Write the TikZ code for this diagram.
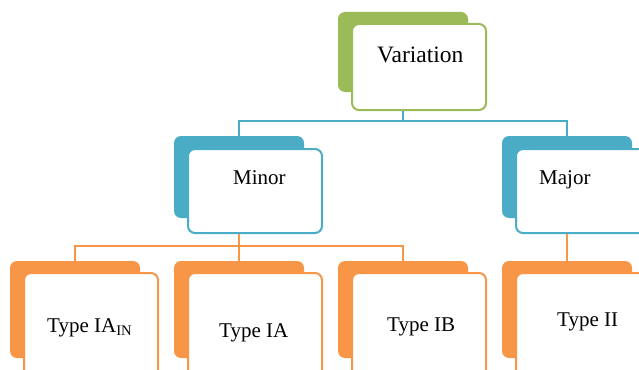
\documentclass[tikz,border=0pt]{standalone}
\usepackage{fontspec}
\setmainfont{Liberation Serif}
\usepackage{tikz}
\definecolor{vargreen}{HTML}{9BBB59}
\definecolor{catblue}{HTML}{4BACC6}
\definecolor{typeorange}{HTML}{F79646}
\tikzstyle{Back}=[rectangle, rounded corners=7pt, inner sep=0pt, minimum width=130, minimum height=82]
\tikzstyle{Front}=[rectangle, rounded corners=7pt, fill=white, line width=2pt, inner sep=0pt, minimum width=134, minimum height=84]
\tikzstyle{Low}=[minimum height=97]
\tikzstyle{LowFront}=[minimum height=110]
\tikzstyle{Label}=[inner sep=0pt, anchor=base west, font=\fontsize{21}{25}\selectfont]
\tikzstyle{Link}=[line width=2pt]

\begin{document}
\begin{tikzpicture}[x=1pt, y=-1pt]
    \useasboundingbox (0,0) rectangle (639,369);
    \path
    (403,52) node[Back, fill=vargreen, minimum height=80] (varb) {}
    (419,67) node[Front, draw=vargreen, minimum height=86] (varf) {}
    (239,177) node[Back, fill=catblue] (minb) {}
    (255,191) node[Front, draw=catblue] (minf) {}
    (567,177) node[Back, fill=catblue] (majb) {}
    (583,191) node[Front, draw=catblue] (majf) {}
    (75,309.5) node[Back, Low, fill=typeorange] (iainb) {}
    (91,328) node[Front, LowFront, draw=typeorange] (iainf) {}
    (239,309.5) node[Back, Low, fill=typeorange] (iab) {}
    (255,328) node[Front, LowFront, draw=typeorange] (iaf) {}
    (403,309.5) node[Back, Low, fill=typeorange] (ibb) {}
    (419,328) node[Front, LowFront, draw=typeorange] (ibf) {}
    (567,309.5) node[Back, Low, fill=typeorange] (iib) {}
    (583,328) node[Front, LowFront, draw=typeorange] (iif) {};

    \path (377,63) node[Label, font=\fontsize{23.5}{28}\selectfont] (vart) {Variation}
    (233,184) node[Label] (mint) {Minor}
    (539,184) node[Label] (majt) {Major}
    (47,332) node[Label] (iaint) {Type IA\textsubscript{IN}}
    (219,337) node[Label] (iat) {Type IA}
    (387,331) node[Label] (ibt) {Type IB}
    (557,326) node[Label] (iit) {Type II};

    \draw[Link, draw=catblue] (varf.south -| varb.north) -- ++(0,10) -| (minb.north);
    \draw[Link, draw=catblue] (varf.south -| varb.north) -- ++(0,10) -| (majb.north);
    \draw[Link, draw=typeorange] (minf.south -| minb.north) -- ++(0,12) -| (iainb.north);
    \draw[Link, draw=typeorange] (minf.south -| minb.north) -- (iab.north);
    \draw[Link, draw=typeorange] (minf.south -| minb.north) -- ++(0,12) -| (ibb.north);
    \draw[Link, draw=typeorange] (majf.south -| majb.north) -- (iib.north);
\end{tikzpicture}
\end{document}
